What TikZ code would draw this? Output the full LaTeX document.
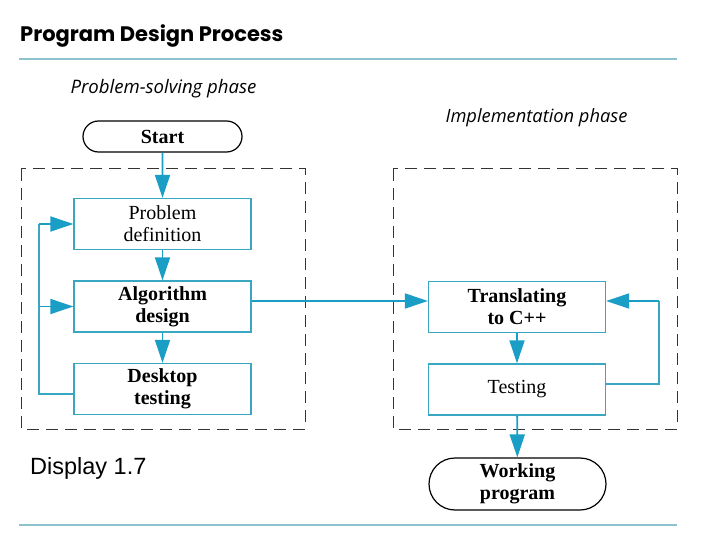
\documentclass[tikz,border=0pt]{standalone}
\usepackage{fontspec}
\setmainfont{Liberation Serif}
\newfontfamily\titlefont{Poppins}
\newfontfamily\phasefont{Open Sans}
\newfontfamily\arialfont{Liberation Sans}
\usetikzlibrary{arrows.meta,shapes.misc}
\definecolor{boxc}{HTML}{3AA7C2}
\definecolor{arrc}{HTML}{1A9EC6}
\definecolor{rulec}{HTML}{8CC3CC}
\tikzset{
  boxfont/.style={font=\fontsize{20}{22}\selectfont},
  boldfont/.style={font=\bfseries\fontsize{20}{22}\selectfont},
  stepbox/.style={draw=boxc, line width=1.3pt, minimum width=177pt, minimum height=51pt, align=center, inner sep=0pt, boxfont},
  termbox/.style={draw=black, line width=1.2pt, rounded rectangle, minimum width=159pt, minimum height=31pt, align=center, inner sep=0pt, boldfont},
  flow/.style={draw=arrc, line width=1.8pt, -{Triangle[length=23pt,width=15pt]}},
  plain/.style={draw=boxc, line width=1.8pt},
  phase/.style={dash pattern=on 12pt off 7pt, line width=1pt, draw=black!80},
}
\begin{document}
\begin{tikzpicture}[x=1pt,y=-1pt]
\useasboundingbox (0,0) rectangle (720,540);
% title and rules
\node[anchor=base west, inner sep=0pt, font=\titlefont\bfseries\fontsize{21}{24}\selectfont] (title) at (20,42) {Program Design Process};
\draw[rulec, line width=1.2pt] (19,59) -- (677,59);
\draw[rulec, line width=1.2pt] (19,525) -- (677,525);
\node[font=\phasefont\itshape\fontsize{18.6}{21}\selectfont] (psp) at (163.5,89) {Problem-solving phase};
\node[font=\phasefont\itshape\fontsize{18.3}{21}\selectfont] (imp) at (536.5,118) {Implementation phase};
\node[font=\arialfont\fontsize{23.5}{27}\selectfont, anchor=west, inner sep=0pt] (disp) at (30,468) {Display 1.7};
% dashed phase boxes
\draw[phase] (21,169) rectangle (305,429);
\draw[phase] (393,169) rectangle (677,429);
% nodes
\node[termbox] (start) at (162.5,136.5) {Start};
\node[stepbox] (pd) at (162.5,224) {Problem\\definition};
\node[stepbox, boldfont] (ad) at (162.5,306.5) {Algorithm\\design};
\node[stepbox, boldfont] (dt) at (162.5,389) {Desktop\\testing};
\node[stepbox, boldfont] (tc) at (517,307) {Translating\\to C++};
\node[stepbox] (te) at (517,389.5) {Testing};
\node[termbox, minimum height=52pt, minimum width=177pt] (wp) at (517.5,484) {Working\\program};
% connectors
\draw[flow] (start) -- (pd);
\draw[flow] (pd) -- (ad);
\draw[flow] (ad) -- (dt);
\draw[flow] (tc) -- (te);
\draw[flow] (te) -- (wp);
\coordinate (lb) at (39,394);
\coordinate (lt) at (39,224);
\coordinate (lm) at (39,306.5);
\draw[plain] (dt.west |- lb) -- (lb) -- (lt);
\draw[flow] (lt) -- (pd.west);
\draw[flow] (lm) -- (ad.west);
\draw[flow] (ad.east |- 0,301) -- (tc.west |- 0,301);
\coordinate (rb) at (659,384);
\coordinate (rt) at (659,301);
\draw[plain] (te.east |- rb) -- (rb) -- (rt);
\draw[flow] (rt) -- (tc.east |- rt);
\end{tikzpicture}
\end{document}
